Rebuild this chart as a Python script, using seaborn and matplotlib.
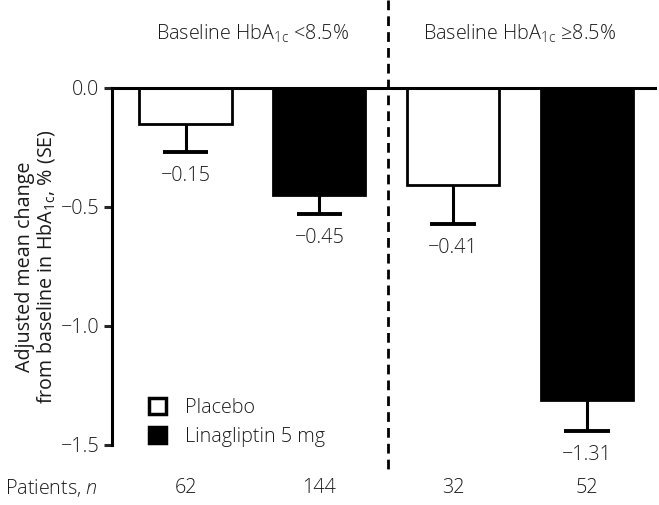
import numpy as np
import pandas as pd
import seaborn as sns
from matplotlib import pyplot as plt
from matplotlib.patches import Patch
import matplotlib.transforms as mtransforms

groups = ['<8.5% placebo', '<8.5% lina', '>=8.5% placebo', '>=8.5% lina']
treatment = ['Placebo', 'Linagliptin 5 mg', 'Placebo', 'Linagliptin 5 mg']
change = [-0.15, -0.45, -0.41, -1.31]
se = [0.12, 0.08, 0.16, 0.13]
patients = [62, 144, 32, 52]
value_labels = ['\u22120.15', '\u22120.45', '\u22120.41', '\u22121.31']
subgroup_titles = ['Baseline HbA$_{\\mathregular{1c}}$ <8.5%', 'Baseline HbA$_{\\mathregular{1c}}$ \u22658.5%']

sns.set_style('white')
plt.rcParams['font.family'] = ['Open Sans', 'DejaVu Sans']
plt.rcParams['font.weight'] = 'light'
plt.rcParams['mathtext.fontset'] = 'custom'
plt.rcParams['mathtext.rm'] = 'Open Sans:light'
plt.rcParams['mathtext.it'] = 'Open Sans:italic:light'

FS = 14.2
TXT = '#1a1a1a'

df = pd.DataFrame({'group': groups, 'treatment': treatment, 'change': change})

fig = plt.figure(figsize=(6.59, 5.05), dpi=100)
ax = fig.add_axes([0.17, 0.119, 0.824, 0.707])

sns.barplot(data=df, x='group', y='change', hue='treatment', dodge=False,
            palette={'Placebo': 'white', 'Linagliptin 5 mg': 'black'},
            edgecolor='black', linewidth=2, width=0.69, errorbar=None,
            legend=False, ax=ax)

# one-sided (downward) SE bars
x = np.arange(len(groups))
low = np.array(change) - np.array(se)
ax.vlines(x, change, low, color='black', lw=2.2)
ax.hlines(low, x - 0.17, x + 0.17, color='black', lw=2.8)

for xi, lo, lab in zip(x, low, value_labels):
    ax.text(xi, lo - 0.06, lab, ha='center', va='top', fontsize=FS, color=TXT)

ax.set_ylim(-1.5, 0)
ax.set_xlim(-0.55, 3.51)
ax.set_yticks([0, -0.5, -1.0, -1.5])
ax.set_yticklabels(['0.0', '\u22120.5', '\u22121.0', '\u22121.5'], fontsize=FS, color=TXT)
ax.set_xticks([])
ax.set_xlabel('')
ax.set_ylabel('Adjusted mean change\nfrom baseline in HbA$_{\\mathregular{1c}}$, % (SE)',
              fontsize=FS, color=TXT, linespacing=1.0)
ax.yaxis.set_label_coords(-0.102, 0.5)

for side in ['right', 'bottom']:
    ax.spines[side].set_visible(False)
for side in ['left', 'top']:
    ax.spines[side].set_linewidth(2.2)
    ax.spines[side].set_color('black')
ax.tick_params(axis='y', direction='out', length=6, width=2.2, left=True, pad=3)

trans = mtransforms.blended_transform_factory(ax.transData, fig.transFigure)

# divider between subgroups
ax.plot([1.51, 1.51], [1.0, 0.065], transform=trans, color='black', lw=2,
        ls=(0, (3.5, 2.2)), clip_on=False)

ax.text(0.5, 0.932, subgroup_titles[0], transform=trans, ha='center', va='center', fontsize=FS, color=TXT)
ax.text(2.5, 0.932, subgroup_titles[1], transform=trans, ha='center', va='center', fontsize=FS, color=TXT)

fig.text(0.008, 0.034, 'Patients, $\\it{n}$', ha='left', va='center', fontsize=FS, color=TXT)
for xi, n in zip(x, patients):
    ax.text(xi, 0.034, str(n), transform=trans, ha='center', va='center', fontsize=FS, color=TXT)

handles = [Patch(facecolor='white', edgecolor='black', linewidth=2.5, label='Placebo'),
           Patch(facecolor='black', edgecolor='black', linewidth=2.5, label='Linagliptin 5 mg')]
ax.legend(handles=handles, loc='lower left', bbox_to_anchor=(0.035, -0.055), frameon=False,
          prop={'size': FS, 'weight': 'light'}, handlelength=0.85, handleheight=0.85,
          handletextpad=1.0, labelspacing=0.45, labelcolor=TXT)

fig.savefig('out.png', dpi=100)
